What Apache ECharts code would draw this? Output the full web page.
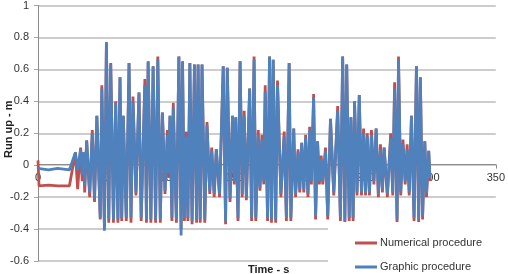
<!DOCTYPE html>
<html>
<head>
<meta charset="utf-8">
<script src="https://cdn.jsdelivr.net/npm/echarts@6/dist/echarts.min.js"></script>
<style>html,body{margin:0;padding:0;background:#fff}#c{width:508px;height:274px}</style>
</head>
<body>
<div id="c"></div>
<script>
var seriesNames = ['Numerical procedure', 'Graphic procedure'];
var xTicks = [0, 50, 100, 150, 200, 250, 300, 350];
var yTicks = [-0.6, -0.4, -0.2, 0, 0.2, 0.4, 0.6, 0.8, 1];

var time = [
  0, 0.8, 8, 15, 24, 25.0, 28.6, 30.3, 32.6, 33.8,
  34.7, 35.7, 37.2, 39.5, 41.5, 43.2, 45.0, 47.6, 48.8, 50.8,
  52.3, 54.1, 55.6, 57.7, 59.4, 61.1, 62.7, 64.0, 65.2, 67.5,
  69.6, 71.1, 72.6, 74.9, 77.2, 78.9, 81.7, 82.9, 84.2, 86.3,
  88.0, 89.9, 91.6, 93.5, 95.1, 97.1, 98.9, 99.8, 100.9, 102.4,
  103.4, 105.8, 107.7, 109.4, 110.5, 111.9, 113.3, 114.6, 116.1, 117.8,
  119.6, 121.2, 122.4, 124.0, 125.4, 127.5, 129.2, 131.3, 132.8, 134.7,
  136.3, 138.8, 141.6, 143.4, 144.7, 146.8, 148.7, 150.0, 151.2, 152.9,
  154.5, 156.1, 157.6, 159.3, 161.8, 163.3, 165.2, 166.5, 168.4, 169.7,
  171.2, 172.6, 173.7, 175.5, 177.0, 178.5, 179.8, 181.7, 183.1, 185.7,
  188.2, 189.9, 192.0, 193.3, 195.5, 196.9, 198.8, 200.1, 201.6, 203.2,
  204.6, 206.4, 207.7, 209.0, 210.7, 212.2, 213.7, 215.1, 216.5, 217.7,
  219.8, 221.5, 223.6, 226.1, 229.1, 231.2, 232.9, 234.6, 236.0, 237.9,
  239.2, 240.9, 242.0, 243.9, 245.6, 247.3, 248.9, 250.4, 251.7, 253.4,
  254.9, 256.8, 258.5, 260.2, 261.8, 263.3, 264.6, 267.1, 269.6, 271.2,
  272.6, 274.5, 275.6, 277.3, 279.0, 280.7, 282.2, 283.8, 285.5, 287.5,
  289.3, 291.0, 292.3, 294.0, 295.7, 297.0, 298.7, 299.7
];

var graphic = [
  -0.02, -0.03, -0.03, -0.02, -0.03, -0.03, 0.08, -0.03, 0.10, -0.06,
  0.08, -0.13, 0.155, -0.17, 0.20, -0.21, 0.31, -0.33, 0.48, -0.41,
  0.77, -0.34, 0.63, -0.34, 0.39, -0.34, 0.55, -0.33, 0.31, -0.33,
  0.64, -0.33, 0.40, -0.17, 0.455, -0.33, 0.50, -0.34, 0.65, -0.34,
  0.62, -0.34, 0.66, -0.34, 0.33, -0.16, 0.19, -0.05, 0.31, -0.33,
  0.36, -0.34, 0.68, -0.44, 0.65, -0.33, 0.18, -0.33, 0.64, -0.35,
  0.63, -0.34, 0.63, -0.34, 0.63, -0.34, 0.25, -0.16, 0.09, -0.18,
  0.10, -0.18, 0.62, -0.35, 0.61, -0.21, 0.31, -0.10, 0.30, -0.33,
  0.65, -0.18, 0.31, -0.20, 0.48, -0.33, 0.66, -0.33, 0.19, -0.14,
  0.16, -0.10, 0.46, -0.33, 0.68, -0.34, 0.66, -0.34, 0.50, -0.18,
  0.18, -0.33, 0.64, -0.33, 0.23, -0.18, 0.08, -0.15, 0.14, -0.15,
  0.17, -0.18, 0.22, -0.10, 0.42, -0.32, 0.15, -0.10, 0.04, -0.10,
  0.09, -0.32, 0.29, -0.17, 0.34, -0.33, 0.68, -0.35, 0.63, -0.33,
  0.30, -0.33, 0.40, -0.17, 0.44, -0.17, 0.20, -0.17, 0.18, -0.17,
  0.19, -0.10, 0.23, -0.18, 0.10, -0.15, 0.11, -0.18, 0.17, -0.17,
  0.48, -0.34, 0.66, -0.17, 0.13, -0.10, 0.10, -0.17, 0.31, -0.33,
  0.62, -0.34, 0.55, -0.32, 0.15, -0.18, 0.09, -0.08
];

var numerical = [
  0.03, -0.13, -0.125, -0.13, -0.13, -0.13, 0.08, -0.15, 0.11, -0.10,
  0.08, -0.17, 0.155, -0.20, 0.22, -0.23, 0.31, -0.34, 0.50, -0.39,
  0.77, -0.36, 0.64, -0.36, 0.40, -0.36, 0.55, -0.35, 0.31, -0.35,
  0.64, -0.36, 0.43, -0.19, 0.455, -0.35, 0.54, -0.36, 0.65, -0.36,
  0.62, -0.36, 0.68, -0.36, 0.33, -0.18, 0.22, -0.08, 0.31, -0.35,
  0.39, -0.36, 0.68, -0.40, 0.65, -0.35, 0.21, -0.35, 0.64, -0.37,
  0.63, -0.36, 0.63, -0.36, 0.63, -0.36, 0.27, -0.18, 0.11, -0.20,
  0.10, -0.20, 0.62, -0.37, 0.61, -0.23, 0.31, -0.12, 0.30, -0.35,
  0.65, -0.20, 0.34, -0.22, 0.48, -0.35, 0.68, -0.35, 0.22, -0.16,
  0.19, -0.12, 0.50, -0.35, 0.68, -0.36, 0.66, -0.36, 0.53, -0.20,
  0.21, -0.35, 0.64, -0.35, 0.23, -0.20, 0.10, -0.17, 0.14, -0.17,
  0.19, -0.20, 0.24, -0.12, 0.445, -0.34, 0.15, -0.12, 0.06, -0.12,
  0.11, -0.34, 0.29, -0.19, 0.37, -0.35, 0.68, -0.37, 0.63, -0.35,
  0.30, -0.35, 0.40, -0.19, 0.44, -0.19, 0.23, -0.19, 0.20, -0.19,
  0.22, -0.12, 0.23, -0.20, 0.13, -0.17, 0.11, -0.20, 0.20, -0.19,
  0.52, -0.36, 0.68, -0.19, 0.16, -0.12, 0.13, -0.19, 0.31, -0.35,
  0.62, -0.36, 0.55, -0.34, 0.15, -0.20, 0.09, -0.10
];

function pairs(vals) {
  var out = [];
  for (var i = 0; i < time.length && i < vals.length; i++) out.push([time[i], vals[i]]);
  return out;
}

var FONT = 'Liberation Sans';
var GRID_TOP = 4, GRID_BOTTOM = 13, H = 274;
var plotH = H - GRID_TOP - GRID_BOTTOM;
var yMin = yTicks[0], yMax = yTicks[yTicks.length - 1];
// distance from bottom edge of grid up to the value-0 line
var zeroOffset = plotH * (0 - yMin) / (yMax - yMin);

var chart = echarts.init(document.getElementById('c'), null, {renderer: 'canvas'});
chart.setOption({
  animation: false,
  backgroundColor: '#ffffff',
  grid: {left: 38, right: 10, top: GRID_TOP, bottom: GRID_BOTTOM, containLabel: false},
  xAxis: {
    type: 'value', min: xTicks[0], max: xTicks[xTicks.length - 1], interval: 50,
    position: 'bottom', offset: -zeroOffset,
    axisLine: {onZero: false, lineStyle: {color: '#8c8c8c', width: 1}},
    axisTick: {show: true, length: 4, lineStyle: {color: '#8c8c8c'}},
    splitLine: {show: false},
    axisLabel: {color: '#333', fontFamily: FONT, fontSize: 11, margin: 8}
  },
  yAxis: {
    type: 'value', min: yMin, max: yMax, interval: 0.2,
    axisLine: {show: true, onZero: false, lineStyle: {color: '#8c8c8c', width: 1}},
    axisTick: {show: true, length: 4, lineStyle: {color: '#a6a6a6'}},
    splitLine: {show: true, lineStyle: {color: '#bdbdbd', width: 1.5}},
    axisLabel: {color: '#333', fontFamily: FONT, fontSize: 11, margin: 9,
      formatter: function (v) { return String(Math.round(v * 10) / 10); }}
  },
  legend: {
    orient: 'vertical', left: 328, top: 222,
    padding: [15, 22, 0, 27],
    backgroundColor: '#ffffff',
    itemWidth: 22, itemHeight: 3, itemGap: 12,
    icon: 'rect',
    textStyle: {color: '#333', fontFamily: FONT, fontSize: 11, lineHeight: 12, padding: [0, 0, 0, -2]},
    data: seriesNames
  },
  graphic: [
    {type: 'text', left: 248, top: 264, style: {text: 'Time - s', font: 'bold 11px ' + FONT, fill: '#222'}},
    {type: 'text', x: 3, y: 158, rotation: Math.PI / 2, style: {text: 'Run up - m', font: 'bold 11px ' + FONT, fill: '#222'}}
  ],
  series: [
    {name: seriesNames[0], type: 'line', data: pairs(numerical), showSymbol: false, symbol: 'none',
      lineStyle: {color: '#C0504D', width: 2.8}, itemStyle: {color: '#C0504D'}, z: 2},
    {name: seriesNames[1], type: 'line', data: pairs(graphic), showSymbol: false, symbol: 'none',
      lineStyle: {color: '#4F81BD', width: 2.8}, itemStyle: {color: '#4F81BD'}, z: 3}
  ]
});
</script>
</body>
</html>
